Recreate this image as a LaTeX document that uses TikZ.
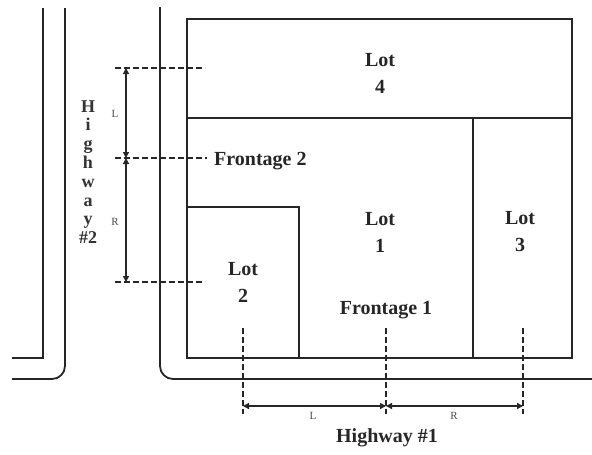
\documentclass[tikz,border=0pt]{standalone}
\usepackage{fontspec}
\setmainfont{Liberation Serif}
\usetikzlibrary{arrows.meta}
\begin{document}
\begin{tikzpicture}[x=1pt,y=1pt,
  wall/.style={line width=1.8pt, black!85},
  lotline/.style={line width=1.6pt, black!85},
  dashline/.style={line width=1.5pt, dash pattern=on 6pt off 3pt, black!85},
  tip/.tip={Triangle[length=6pt,width=6pt]},
  dimline/.style={line width=1.3pt, black!85, tip-tip},
  lbl/.style={font=\fontsize{20}{27}\selectfont\bfseries, align=center, inner sep=0pt, text=black!85},
  small/.style={font=\fontsize{11}{12}\selectfont, inner sep=0pt, text=black!70}]
\useasboundingbox (0,0) rectangle (592,-455);
% roads
\draw[wall] (43,-8) -- (43,-358) -- (12,-358);
\draw[wall] (65,-8) -- (65,-366) arc (0:-90:13) -- (12,-379);
\draw[wall] (160,-7) -- (160,-366) arc (180:270:13) -- (592,-379);
% lots
\draw[lotline] (187,-19) rectangle (572,-358);
\draw[lotline] (187,-118) -- (572,-118);
\draw[lotline] (473,-118) -- (473,-358);
\draw[lotline] (187,-207) -- (299,-207) -- (299,-358);
% lot labels
\node[lbl] (lot4) at (380,-73) {Lot\\4};
\node[lbl] (lot1) at (380,-232) {Lot\\1};
\node[lbl] (lot2) at (243,-282) {Lot\\2};
\node[lbl] (lot3) at (520,-232) {Lot\\3};
\node[lbl] (f1) at (386,-310) {Frontage 1};
\node[lbl, anchor=west] (f2) at (214,-161) {Frontage 2};
% vertical dimension
\coordinate (va) at (126,-68);
\coordinate (vb) at (126,-158);
\coordinate (vc) at (126,-282);
\draw[dashline] (115,-68) -- (205,-68);
\draw[dashline] (115,-158) -- (207,-158);
\draw[dashline] (115,-282) -- (205,-282);
\draw[dimline] (va) -- (vb);
\draw[dimline] (vb) -- (vc);
\node[small] (vl) at (115,-114) {L};
\node[small] (vr) at (115,-222) {R};
\node[font=\fontsize{18}{18.8}\selectfont\bfseries, align=center, inner sep=0pt, text=black!80] (hw2) at (88,-172) {H\\i\\g\\h\\w\\a\\y\\\#2};
% horizontal dimension
\coordinate (ha) at (243,-406);
\coordinate (hb) at (386,-406);
\coordinate (hc) at (523,-406);
\draw[dashline] (243,-328) -- (243,-414);
\draw[dashline] (386,-328) -- (386,-414);
\draw[dashline] (523,-328) -- (523,-414);
\draw[dimline] (ha) -- (hb);
\draw[dimline] (hb) -- (hc);
\node[small] (hl) at (313,-416) {L};
\node[small] (hr) at (454,-416) {R};
\node[lbl] (hw1) at (387,-438) {Highway \#1};
\end{tikzpicture}
\end{document}
